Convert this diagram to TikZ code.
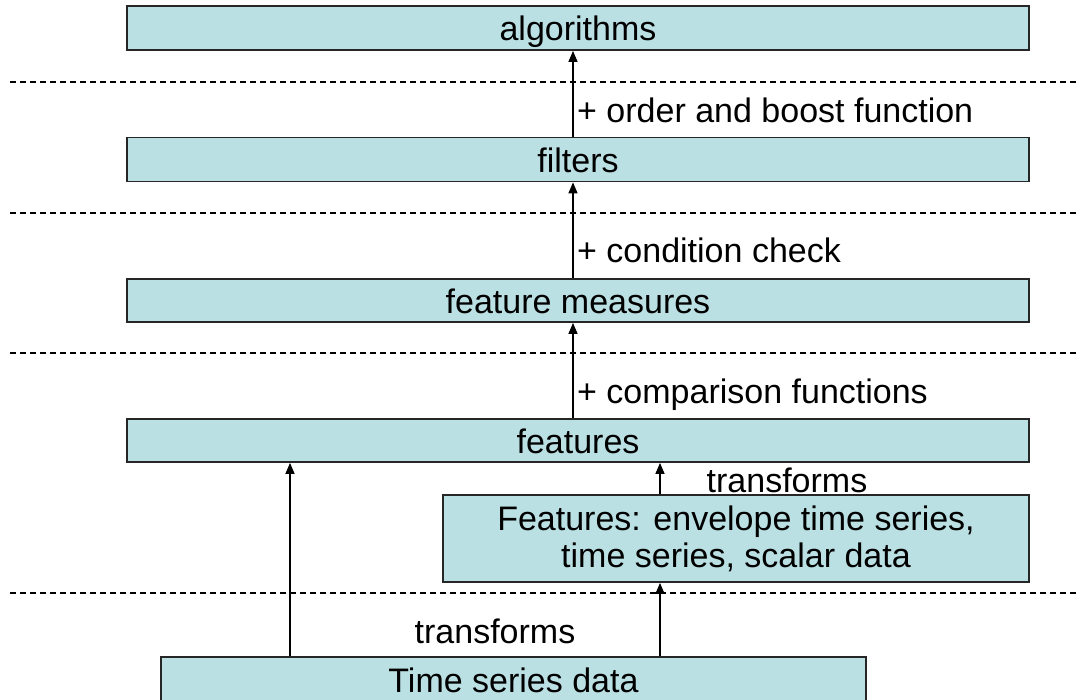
\documentclass[tikz,border=0pt]{standalone}
\usepackage{fontspec}
\setmainfont{Liberation Sans}
\usetikzlibrary{arrows.meta,calc}
\definecolor{boxfill}{RGB}{186,224,227}
\tikzset{
	layerbox/.style={draw=black!85, line width=1.8pt, fill=boxfill, inner sep=0pt,
		text height=26pt, text depth=0pt, font=\fontsize{34}{37}\selectfont},
	lbl/.style={inner sep=0pt, font=\fontsize{34}{37}\selectfont},
	arr/.style={line width=1.3pt, -{Triangle[length=11pt,width=9pt]}},
	sep/.style={line width=1.2pt, dash pattern=on 6pt off 4pt}
}

\begin{document}
\begin{tikzpicture}[x=1pt, y=-1pt]
			%%%%% START %%%%%
			\useasboundingbox (0,0) rectangle (1076,700);
			
			\coordinate (lx) at (290,0);
			\coordinate (cx) at (573,0);
			\coordinate (rx) at (660,0);
			
			\foreach \y in {82,213,353,593}
				\draw[sep] (10,\y) -- (1076,\y);
			
			\node[layerbox, minimum width=902pt, minimum height=44pt] (alg) at (578,28) {algorithms};
			\node[layerbox, minimum width=902pt, minimum height=44pt] (filt) at (578,159.5) {filters};
			\node[layerbox, minimum width=902pt, minimum height=43pt] (meas) at (578,300.5) {feature measures};
			\node[layerbox, minimum width=902pt, minimum height=43pt] (feat) at (578,440.5) {features};
			\node[layerbox, text height=, text depth=, align=center, minimum width=586pt, minimum height=87pt] (env) at (736,538.5) {Features: envelope time series,\\time series, scalar data};
			\node[layerbox, text depth=19pt, minimum width=705pt, minimum height=63pt] (tsd) at (513.5,688.5) {Time series data};
			
			\draw[arr] (filt.north -| cx) -- (alg.south -| cx);
			\draw[arr] (meas.north -| cx) -- (filt.south -| cx);
			\draw[arr] (feat.north -| cx) -- (meas.south -| cx);
			\draw[arr] (tsd.north -| lx) -- (feat.south -| lx);
			\draw[arr] (tsd.north -| rx) -- (env.south -| rx);
			\draw[arr] (env.north -| rx) -- (feat.south -| rx);
			
			\node[lbl, anchor=base west] (l1) at (577,123) {+ order and boost function};
			\node[lbl, anchor=base west] (l2) at (577,263) {+ condition check};
			\node[lbl, anchor=base west] (l3) at (577,403) {+ comparison functions};
			\node[lbl, anchor=base] (t1) at (787,492) {transforms};
			\node[lbl, anchor=base] (t2) at (495,643) {transforms};
			%%%%% END %%%%%
\end{tikzpicture}
\end{document}
